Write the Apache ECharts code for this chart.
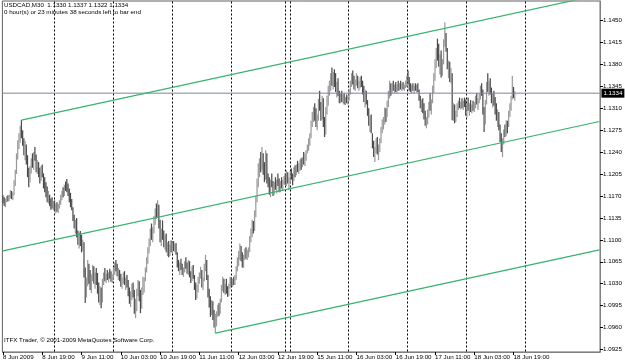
<!DOCTYPE html>
<html><head><meta charset="utf-8">
<script src="https://cdn.jsdelivr.net/npm/echarts@6/dist/echarts.min.js"></script>
<style>html,body{margin:0;padding:0;background:#fff}#c{width:625px;height:363px}</style>
</head><body><div id="c"></div>
<script>
// ---- data (USDCAD M30) ----
const firstOpen = 1.1165;
const highs = [
1.1171,1.1168,1.1166,1.1170,1.1171,1.1172,1.1179,1.1178,1.1176,1.1195,
1.1212,1.1238,1.1259,1.1270,1.1282,1.1291,1.1275,1.1262,1.1258,1.1252,
1.1235,1.1215,1.1218,1.1230,1.1238,1.1240,1.1248,1.1236,1.1227,1.1224,
1.1215,1.1218,1.1220,1.1206,1.1200,1.1192,1.1185,1.1178,1.1172,1.1166,
1.1168,1.1162,1.1163,1.1158,1.1160,1.1157,1.1163,1.1172,1.1178,1.1184,
1.1188,1.1193,1.1197,1.1190,1.1182,1.1175,1.1165,1.1152,1.1140,1.1132,
1.1135,1.1115,1.1112,1.1114,1.1108,1.1100,1.1096,1.1056,1.1040,1.1068,
1.1062,1.1052,1.1045,1.1060,1.1058,1.1048,1.1055,1.1047,1.1032,1.1026,
1.1024,1.1038,1.1048,1.1055,1.1046,1.1052,1.1048,1.1054,1.1050,1.1045,
1.1056,1.1064,1.1068,1.1062,1.1055,1.1052,1.1046,1.1040,1.1048,1.1050,
1.1040,1.1044,1.1036,1.1024,1.1018,1.1030,1.1032,1.1020,1.1006,1.1022,
1.1036,1.1034,1.1020,1.1024,1.1041,1.1040,1.1056,1.1072,1.1088,1.1102,
1.1118,1.1126,1.1120,1.1138,1.1150,1.1158,1.1163,1.1156,1.1132,1.1118,
1.1131,1.1115,1.1108,1.1110,1.1096,1.1098,1.1092,1.1099,1.1096,1.1098,
1.1094,1.1095,1.1080,1.1068,1.1064,1.1070,1.1062,1.1056,1.1066,1.1072,
1.1064,1.1068,1.1066,1.1050,1.1058,1.1060,1.1044,1.1032,1.1028,1.1041,
1.1048,1.1057,1.1052,1.1040,1.1062,1.1076,1.1068,1.1044,1.1022,1.1010,
1.1004,1.1002,1.0988,1.0982,1.0986,1.0996,1.0999,1.1006,1.1028,1.1041,
1.1038,1.1030,1.1038,1.1026,1.1030,1.1041,1.1040,1.1038,1.1041,1.1044,
1.1058,1.1072,1.1082,1.1094,1.1090,1.1080,1.1076,1.1086,1.1088,1.1084,
1.1088,1.1106,1.1118,1.1132,1.1130,1.1147,1.1170,1.1198,1.1222,1.1230,
1.1240,1.1248,1.1238,1.1224,1.1243,1.1238,1.1206,1.1200,1.1196,1.1206,
1.1194,1.1192,1.1200,1.1196,1.1206,1.1198,1.1194,1.1200,1.1196,1.1202,
1.1206,1.1211,1.1208,1.1200,1.1210,1.1214,1.1206,1.1216,1.1219,1.1220,
1.1226,1.1222,1.1228,1.1230,1.1232,1.1240,1.1238,1.1243,1.1252,1.1262,
1.1270,1.1290,1.1304,1.1312,1.1318,1.1310,1.1300,1.1325,1.1338,1.1320,
1.1330,1.1326,1.1296,1.1312,1.1330,1.1346,1.1354,1.1366,1.1375,1.1368,
1.1372,1.1366,1.1352,1.1358,1.1338,1.1334,1.1338,1.1332,1.1334,1.1328,
1.1332,1.1330,1.1340,1.1354,1.1366,1.1370,1.1362,1.1356,1.1366,1.1362,
1.1354,1.1360,1.1362,1.1354,1.1346,1.1340,1.1338,1.1323,1.1310,1.1298,
1.1300,1.1270,1.1258,1.1248,1.1262,1.1264,1.1252,1.1262,1.1280,1.1292,
1.1296,1.1311,1.1310,1.1322,1.1338,1.1354,1.1350,1.1350,1.1354,1.1348,
1.1352,1.1348,1.1354,1.1350,1.1354,1.1350,1.1352,1.1348,1.1354,1.1362,
1.1370,1.1360,1.1350,1.1348,1.1350,1.1346,1.1350,1.1348,1.1350,1.1340,
1.1330,1.1324,1.1326,1.1318,1.1306,1.1296,1.1308,1.1320,1.1334,1.1324,
1.1346,1.1366,1.1388,1.1406,1.1421,1.1413,1.1396,1.1402,1.1388,1.1420,
1.1447,1.1430,1.1406,1.1386,1.1384,1.1374,1.1366,1.1318,1.1316,1.1306,
1.1318,1.1322,1.1327,1.1320,1.1326,1.1322,1.1327,1.1324,1.1318,1.1327,
1.1318,1.1323,1.1316,1.1322,1.1320,1.1330,1.1334,1.1326,1.1334,1.1346,
1.1350,1.1340,1.1312,1.1323,1.1352,1.1366,1.1354,1.1358,1.1343,1.1334,
1.1338,1.1328,1.1318,1.1308,1.1304,1.1284,1.1270,1.1262,1.1276,1.1284,
1.1291,1.1290,1.1306,1.1318,1.1330,1.1362,1.1344,1.1337];
const lows = [
1.1158,1.1154,1.1152,1.1160,1.1161,1.1162,1.1166,1.1165,1.1163,1.1171,
1.1186,1.1205,1.1228,1.1245,1.1255,1.1262,1.1250,1.1235,1.1227,1.1220,
1.1200,1.1184,1.1192,1.1206,1.1215,1.1212,1.1226,1.1208,1.1205,1.1200,
1.1190,1.1194,1.1200,1.1182,1.1176,1.1168,1.1160,1.1158,1.1154,1.1148,
1.1150,1.1147,1.1146,1.1142,1.1145,1.1143,1.1150,1.1156,1.1163,1.1168,
1.1170,1.1178,1.1176,1.1170,1.1160,1.1152,1.1147,1.1130,1.1118,1.1110,
1.1104,1.1092,1.1086,1.1090,1.1080,1.1082,1.1040,1.0999,1.1008,1.1026,
1.1030,1.1020,1.1015,1.1034,1.1030,1.1022,1.1028,1.1014,1.1000,1.0996,
1.0991,1.1000,1.1028,1.1034,1.1031,1.1036,1.1032,1.1038,1.1033,1.1031,
1.1038,1.1044,1.1050,1.1042,1.1036,1.1034,1.1025,1.1022,1.1030,1.1028,
1.1020,1.1024,1.1010,1.0998,1.0993,1.1004,1.1008,1.0982,1.0975,1.0986,
1.1010,1.1002,1.0983,1.0990,1.1012,1.1016,1.1034,1.1048,1.1062,1.1078,
1.1090,1.1100,1.1096,1.1110,1.1124,1.1134,1.1136,1.1118,1.1096,1.1090,
1.1100,1.1088,1.1084,1.1080,1.1074,1.1072,1.1074,1.1080,1.1079,1.1082,
1.1080,1.1076,1.1056,1.1050,1.1044,1.1052,1.1044,1.1041,1.1048,1.1054,
1.1046,1.1044,1.1040,1.1031,1.1034,1.1038,1.1020,1.1004,1.1006,1.1016,
1.1030,1.1038,1.1024,1.1020,1.1034,1.1050,1.1036,1.1008,1.0992,1.0977,
1.0980,1.0972,1.0960,1.0951,1.0962,1.0977,1.0979,1.0982,1.1000,1.1018,
1.1015,1.1012,1.1014,1.1009,1.1010,1.1022,1.1026,1.1025,1.1028,1.1028,
1.1036,1.1050,1.1058,1.1068,1.1066,1.1056,1.1055,1.1068,1.1070,1.1068,
1.1072,1.1080,1.1096,1.1104,1.1110,1.1114,1.1136,1.1160,1.1184,1.1200,
1.1208,1.1212,1.1204,1.1192,1.1196,1.1190,1.1184,1.1172,1.1168,1.1184,
1.1170,1.1172,1.1180,1.1174,1.1186,1.1176,1.1176,1.1182,1.1178,1.1188,
1.1188,1.1186,1.1190,1.1179,1.1190,1.1196,1.1187,1.1194,1.1200,1.1203,
1.1208,1.1205,1.1210,1.1212,1.1216,1.1220,1.1218,1.1226,1.1238,1.1242,
1.1250,1.1262,1.1280,1.1288,1.1290,1.1280,1.1275,1.1290,1.1306,1.1290,
1.1292,1.1280,1.1264,1.1268,1.1300,1.1314,1.1330,1.1338,1.1346,1.1340,
1.1344,1.1336,1.1327,1.1330,1.1318,1.1318,1.1320,1.1318,1.1316,1.1315,
1.1318,1.1316,1.1322,1.1332,1.1344,1.1348,1.1340,1.1338,1.1346,1.1342,
1.1338,1.1342,1.1344,1.1332,1.1320,1.1311,1.1316,1.1298,1.1282,1.1272,
1.1270,1.1246,1.1232,1.1224,1.1238,1.1236,1.1227,1.1240,1.1254,1.1270,
1.1276,1.1284,1.1288,1.1296,1.1312,1.1326,1.1330,1.1334,1.1338,1.1334,
1.1336,1.1334,1.1338,1.1338,1.1340,1.1338,1.1340,1.1338,1.1342,1.1344,
1.1348,1.1338,1.1336,1.1334,1.1338,1.1334,1.1338,1.1335,1.1336,1.1322,
1.1310,1.1304,1.1302,1.1292,1.1282,1.1278,1.1284,1.1295,1.1306,1.1300,
1.1318,1.1334,1.1354,1.1374,1.1386,1.1376,1.1364,1.1359,1.1362,1.1380,
1.1408,1.1400,1.1372,1.1358,1.1352,1.1350,1.1291,1.1290,1.1286,1.1288,
1.1296,1.1307,1.1310,1.1308,1.1310,1.1307,1.1312,1.1298,1.1295,1.1306,
1.1298,1.1304,1.1302,1.1306,1.1304,1.1310,1.1316,1.1307,1.1318,1.1324,
1.1330,1.1300,1.1272,1.1284,1.1316,1.1336,1.1330,1.1332,1.1318,1.1311,
1.1314,1.1300,1.1290,1.1280,1.1275,1.1256,1.1240,1.1232,1.1252,1.1264,
1.1266,1.1270,1.1280,1.1296,1.1306,1.1324,1.1326,1.1322];
const closes = [
1.1162,1.1160,1.1164,1.1167,1.1164,1.1170,1.1174,1.1168,1.1172,1.1190,
1.1208,1.1232,1.1252,1.1262,1.1278,1.1268,1.1255,1.1240,1.1250,1.1226,
1.1205,1.1196,1.1214,1.1224,1.1220,1.1236,1.1232,1.1214,1.1218,1.1206,
1.1198,1.1212,1.1204,1.1188,1.1184,1.1174,1.1166,1.1170,1.1160,1.1156,
1.1152,1.1158,1.1150,1.1154,1.1148,1.1155,1.1160,1.1168,1.1174,1.1172,
1.1185,1.1182,1.1180,1.1174,1.1164,1.1156,1.1150,1.1134,1.1122,1.1126,
1.1110,1.1098,1.1106,1.1094,1.1086,1.1094,1.1048,1.1012,1.1032,1.1055,
1.1038,1.1028,1.1040,1.1050,1.1036,1.1042,1.1034,1.1020,1.1008,1.1018,
1.1004,1.1032,1.1042,1.1038,1.1044,1.1040,1.1046,1.1042,1.1036,1.1042,
1.1052,1.1058,1.1054,1.1046,1.1048,1.1038,1.1030,1.1036,1.1044,1.1032,
1.1034,1.1028,1.1016,1.1006,1.1012,1.1024,1.1014,1.0988,1.0994,1.1018,
1.1028,1.1008,1.1000,1.1018,1.1034,1.1036,1.1052,1.1068,1.1084,1.1096,
1.1112,1.1108,1.1116,1.1132,1.1146,1.1140,1.1152,1.1124,1.1104,1.1112,
1.1106,1.1094,1.1100,1.1086,1.1090,1.1080,1.1088,1.1084,1.1092,1.1086,
1.1090,1.1078,1.1062,1.1054,1.1058,1.1056,1.1048,1.1052,1.1060,1.1058,
1.1050,1.1062,1.1044,1.1036,1.1052,1.1042,1.1026,1.1010,1.1022,1.1036,
1.1044,1.1050,1.1030,1.1036,1.1058,1.1064,1.1040,1.1014,1.1000,1.0984,
1.0998,1.0978,1.0966,1.0970,1.0980,1.0992,1.0986,1.1002,1.1024,1.1034,
1.1020,1.1026,1.1018,1.1014,1.1028,1.1034,1.1030,1.1036,1.1032,1.1040,
1.1054,1.1066,1.1074,1.1088,1.1070,1.1062,1.1072,1.1080,1.1074,1.1078,
1.1084,1.1100,1.1112,1.1124,1.1118,1.1140,1.1164,1.1190,1.1214,1.1222,
1.1216,1.1232,1.1210,1.1198,1.1236,1.1196,1.1192,1.1178,1.1190,1.1188,
1.1176,1.1186,1.1184,1.1192,1.1190,1.1182,1.1188,1.1186,1.1194,1.1196,
1.1192,1.1204,1.1194,1.1198,1.1204,1.1200,1.1198,1.1212,1.1208,1.1216,
1.1214,1.1218,1.1224,1.1220,1.1228,1.1226,1.1234,1.1240,1.1248,1.1258,
1.1266,1.1286,1.1296,1.1306,1.1296,1.1284,1.1294,1.1318,1.1312,1.1300,
1.1322,1.1286,1.1272,1.1306,1.1324,1.1340,1.1346,1.1358,1.1352,1.1362,
1.1350,1.1340,1.1344,1.1334,1.1324,1.1330,1.1322,1.1328,1.1320,1.1326,
1.1322,1.1328,1.1336,1.1350,1.1360,1.1354,1.1348,1.1352,1.1358,1.1346,
1.1350,1.1356,1.1348,1.1338,1.1326,1.1334,1.1320,1.1304,1.1288,1.1292,
1.1276,1.1252,1.1240,1.1244,1.1256,1.1242,1.1248,1.1258,1.1276,1.1284,
1.1290,1.1304,1.1298,1.1318,1.1332,1.1346,1.1340,1.1346,1.1342,1.1344,
1.1340,1.1346,1.1344,1.1348,1.1344,1.1346,1.1342,1.1346,1.1350,1.1358,
1.1354,1.1344,1.1342,1.1346,1.1340,1.1344,1.1342,1.1346,1.1338,1.1326,
1.1316,1.1320,1.1308,1.1298,1.1288,1.1292,1.1300,1.1314,1.1310,1.1322,
1.1340,1.1360,1.1380,1.1400,1.1398,1.1382,1.1390,1.1366,1.1384,1.1414,
1.1420,1.1404,1.1378,1.1380,1.1358,1.1364,1.1300,1.1310,1.1294,1.1302,
1.1312,1.1316,1.1314,1.1318,1.1312,1.1320,1.1316,1.1304,1.1314,1.1310,
1.1312,1.1308,1.1314,1.1310,1.1318,1.1326,1.1320,1.1324,1.1330,1.1340,
1.1334,1.1306,1.1290,1.1318,1.1346,1.1344,1.1348,1.1336,1.1324,1.1330,
1.1318,1.1306,1.1296,1.1300,1.1280,1.1262,1.1248,1.1256,1.1270,1.1268,
1.1286,1.1282,1.1300,1.1310,1.1326,1.1340,1.1330,1.1334];

// trading sessions (day of June 2009, first half-hour slot, number of M30 bars)
const sessionDays   = [8, 9, 10, 11, 12, 14, 15, 16, 17, 18];
const sessionStart  = [6, 0, 0, 0, 0, 44, 0, 0, 0, 0];
const sessionBars   = [42, 48, 48, 48, 44, 4, 48, 48, 48, 40];
const totalSlots = 487;             // chart width in bar slots (incl. right shift)
const labelEvery = 32;
const priceTicks = [1.0925,1.0960,1.0995,1.1030,1.1065,1.1100,1.1135,1.1170,1.1205,1.1240,1.1275,1.1310,1.1345,1.1380,1.1415,1.1450];
const daySeparators = [42, 90, 138, 186, 230, 234, 282, 330, 378, 426];
const channelTop = [[15, 1.1291], [486, 1.1491]];
const channelMid = [[0, 1.10825], [486, 1.12888]];
const channelLow = [[173, 1.0951], [486, 1.10840]];
const bidPrice = 1.1334;
const titleLine1 = 'USDCAD,M30  1.1330 1.1337 1.1322 1.1334';
const titleLine2 = '0 hour(s) or 23 minutes 38 seconds left to bar end';
const copyright = 'ITFX Trader, \u00a9 2001-2009 MetaQuotes Software Corp.';

// ---- build categories ----
const categories = [];
const pad = n => (n < 10 ? '0' : '') + n;
sessionDays.forEach((d, s) => {
  for (let k = 0; k < sessionBars[s]; k++) {
    const slot = sessionStart[s] + k;
    categories.push(d + ' Jun ' + pad(Math.floor(slot / 2)) + ':' + (slot % 2 ? '30' : '00'));
  }
});
const nBars = categories.length;
while (categories.length < totalSlots) categories.push('');

const bars = closes.map((c, i) => [i, i ? closes[i - 1] : firstOpen, highs[i], lows[i], c]);

// ---- font choice: narrow sans if installed ----
const cv = document.createElement('canvas').getContext('2d');
const probe = 'USDCAD 1.1330 Jun hours minutes';
cv.font = '20px monospace'; const wMono = cv.measureText(probe).width;
cv.font = '20px "Liberation Sans Narrow", monospace'; const wNarrow = cv.measureText(probe).width;
const hasNarrow = Math.abs(wMono - wNarrow) > 1;
const F = hasNarrow ? '"Liberation Sans Narrow", "Liberation Sans", sans-serif' : '"Liberation Sans", Arial, sans-serif';
const FS = hasNarrow ? 7.5 : 6.2;

const chart = echarts.init(document.getElementById('c'), null, {renderer: 'canvas'});
const lineSeries = (data) => ({
  type: 'line', data: data, symbol: 'none', silent: true, clip: true, z: 5,
  lineStyle: {color: '#36b36c', width: 1.2}, animation: false
});

chart.setOption({
  animation: false,
  backgroundColor: '#fff',
  grid: {left: 1, top: 1, right: 23, bottom: 11, show: true, borderColor: '#606060', borderWidth: 1},
  xAxis: {
    type: 'category', data: categories, boundaryGap: true,
    axisLine: {show: true, lineStyle: {color: '#808080'}},
    axisTick: {show: true, length: 3, alignWithLabel: true, lineStyle: {color: '#000'},
      interval: (idx) => idx % labelEvery === 0 && idx < nBars},
    axisLabel: {show: true, interval: (idx) => idx % labelEvery === 0 && idx < nBars,
      align: 'left', margin: 2, fontSize: FS, fontFamily: F, color: '#000',
      formatter: (v, idx) => idx === 0 ? '8 Jun 2009' : v},
    splitLine: {show: false}
  },
  yAxis: {
    type: 'value', position: 'right', min: 1.09210, max: 1.14811, scale: true,
    axisLine: {show: true, lineStyle: {color: '#808080'}},
    axisTick: {show: true, length: 3, customValues: priceTicks, lineStyle: {color: '#000'}},
    axisLabel: {show: true, customValues: priceTicks, margin: 3, fontSize: FS, fontFamily: F, color: '#000',
      formatter: v => v.toFixed(4)},
    splitLine: {show: false}
  },
  series: [
    {
      type: 'custom', clip: true, z: 2, silent: true,
      data: bars,
      encode: {x: 0, y: [1, 2, 3, 4]},
      renderItem: function (params, api) {
        const i = api.value(0), o = api.value(1), h = api.value(2), l = api.value(3), c = api.value(4);
        const pH = api.coord([i, h]), pL = api.coord([i, l]);
        const w = api.size([1, 0])[0];
        return {type: 'rect',
          shape: {x: pH[0] - w / 2, y: pH[1], width: w, height: Math.max(1, pL[1] - pH[1])},
          style: {fill: c >= o ? '#9a9a9a' : '#4a4a4a'}};
      }
    },
    {
      type: 'line', silent: true, z: 3, symbol: 'none', animation: false,
      data: [[0, bidPrice], [totalSlots - 1, bidPrice]],
      lineStyle: {color: '#778899', width: 1},
      endLabel: {show: true, formatter: bidPrice.toFixed(4), color: '#fff', backgroundColor: '#000',
        fontSize: FS, fontFamily: F, padding: [2, 2, 1, 2], distance: 2}
    },
    lineSeries(channelTop),
    lineSeries(channelMid),
    lineSeries(channelLow)
  ]
});

// crisp dotted day separators at the left edge of each day's first bar
const step = chart.convertToPixel({xAxisIndex: 0}, 1) - chart.convertToPixel({xAxisIndex: 0}, 0);
const yTop = 1.5, yBot = 351.5;
const gfx = daySeparators.map(idx => {
  const x = Math.round(chart.convertToPixel({xAxisIndex: 0}, idx) - step / 2) + 0.5;
  return {type: 'line', z: 1, silent: true, shape: {x1: x, y1: yTop, x2: x, y2: yBot},
    style: {stroke: '#000', lineWidth: 1, lineDash: [2, 2]}};
});
gfx.push(
  {type: 'text', left: 4, top: 2, z: 100, style: {text: titleLine1, font: FS + 'px ' + F, fill: '#000'}},
  {type: 'text', left: 4, top: 9, z: 100, style: {text: titleLine2, font: FS + 'px ' + F, fill: '#000'}},
  {type: 'text', left: 4, top: 337, z: 100, style: {text: copyright, font: FS + 'px ' + F, fill: '#000'}}
);
chart.setOption({graphic: gfx});
</script></body></html>
